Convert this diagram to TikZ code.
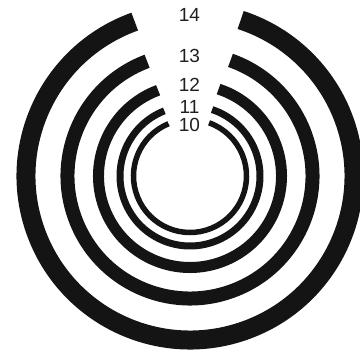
\documentclass[tikz,border=0pt]{standalone}
\usepackage{fontspec}
\setmainfont{Liberation Sans}
\begin{document}
\begin{tikzpicture}[x=1pt,y=1pt,
  ring/.style={line width=#1, draw=black!92},
  lbl/.style={font=\fontsize{19}{19}\selectfont, inner sep=0pt, text=black!88}]
\useasboundingbox (0,0) rectangle (360,356);
\coordinate (c) at (190,180);
% radius / width / left end angle / right end angle (from the top)
\foreach \r/\w/\al/\ar in {164/19/19.7/18, 122.5/14/20.5/19.3, 91.5/11/20.4/18.2, 70/7/21.5/18.4, 56.5/5.5/22.3/19.7} {
  \draw[ring=\w pt] (c) ++(90+\al:\r pt) arc[start angle=90+\al, end angle=450-\ar, radius=\r pt];
}
\node[lbl] (l14) at (189.5,341.5) {14};
\node[lbl] (l13) at (189.5,300) {13};
\node[lbl] (l12) at (189.5,271.5) {12};
\node[lbl] (l11) at (189.5,249.5) {11};
\node[lbl] (l10) at (189.5,231) {10};
\end{tikzpicture}
\end{document}
